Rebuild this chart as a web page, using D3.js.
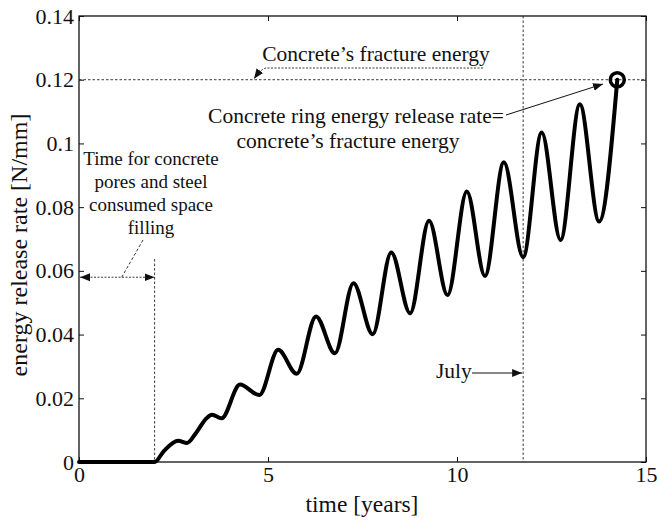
<!DOCTYPE html>
<html>
<head>
<meta charset="utf-8">
<script src="https://cdn.jsdelivr.net/npm/d3@7"></script>
<style>
  html, body { margin: 0; padding: 0; background: #fff; }
  svg { display: block; }
  text { font-family: "Liberation Serif", "DejaVu Serif", serif; fill: #111; }
</style>
</head>
<body>
<svg id="chart" width="657" height="521"></svg>
<script>
// ---- data ----
const timeYears = [0, 2.0, 2.25, 2.62, 2.86, 3.1, 3.38, 3.52, 3.77, 4.26, 4.77, 5.27, 5.76, 6.27, 6.77, 7.26, 7.77, 8.26, 8.76, 9.26, 9.75, 10.26, 10.74, 11.24, 11.75, 12.24, 12.74, 13.25, 13.76, 14.24];
const releaseRate = [0, 0, 0.0035, 0.0067, 0.0060, 0.0092, 0.0138, 0.0148, 0.0137, 0.0243, 0.0210, 0.0352, 0.0277, 0.0457, 0.0341, 0.0561, 0.0401, 0.0658, 0.0467, 0.0757, 0.0524, 0.0849, 0.0584, 0.0941, 0.0643, 0.1034, 0.0697, 0.1123, 0.0755, 0.1200];
const xTickValues = [0, 5, 10, 15];
const yTickValues = [0, 0.02, 0.04, 0.06, 0.08, 0.1, 0.12, 0.14];
const fractureEnergy = 0.12;
const fillingTime = 2;
const julyTime = 11.75;
const fillingArrowLevel = 0.058;
const fillingLineTop = 0.0637;

const xLabel = "time [years]";
const yLabel = "energy release rate [N/mm]";
const fillingLines = ["Time for concrete", "pores and steel", "consumed space", "filling"];
const fractureLabel = "Concrete’s fracture energy";
const ringLines = ["Concrete ring energy release rate=", "concrete’s fracture energy"];
const julyLabel = "July";

// ---- layout ----
const W = 657, H = 521;
const m = { left: 79, right: 11, top: 16, bottom: 59 };
const svg = d3.select("#chart");
const x = d3.scaleLinear().domain([0, 15]).range([m.left, W - m.right]);
const y = d3.scaleLinear().domain([0, 0.14]).range([H - m.bottom, m.top]);

const defs = svg.append("defs");
function marker(id, orient) {
  defs.append("marker")
    .attr("id", id).attr("viewBox", "0 0 10 10")
    .attr("refX", 10).attr("refY", 5)
    .attr("markerWidth", 10).attr("markerHeight", 10)
    .attr("markerUnits", "userSpaceOnUse")
    .attr("orient", orient)
    .append("path").attr("d", "M0,1 L10,5 L0,9 Z").attr("fill", "#111");
}
marker("arr", "auto");
marker("arrStart", "auto-start-reverse");

// ---- axes ----
const fontTick = 22;
const gx = svg.append("g").attr("transform", `translate(0,${y(0)})`)
  .call(d3.axisBottom(x).tickValues(xTickValues).tickSize(-5).tickSizeOuter(0).tickPadding(4).tickFormat(d3.format("d")));
const gxt = svg.append("g").attr("transform", `translate(0,${y(0.14)})`)
  .call(d3.axisTop(x).tickValues(xTickValues).tickSize(-5).tickSizeOuter(0).tickFormat(""));
const gy = svg.append("g").attr("transform", `translate(${x(0)},0)`)
  .call(d3.axisLeft(y).tickValues(yTickValues).tickSize(-5).tickSizeOuter(0).tickPadding(5).tickFormat(d => String(+d.toFixed(2))));
const gyr = svg.append("g").attr("transform", `translate(${x(15)},0)`)
  .call(d3.axisRight(y).tickValues(yTickValues).tickSize(-5).tickSizeOuter(0).tickFormat(""));
[gx, gxt, gy, gyr].forEach(g => {
  g.select(".domain").remove();
  g.selectAll(".tick line").attr("stroke", "#111").attr("stroke-width", 1);
  g.selectAll(".tick text").attr("font-size", fontTick).attr("font-family", "Liberation Serif").attr("fill", "#111");
});

svg.append("rect")
  .attr("x", x(0)).attr("y", y(0.14))
  .attr("width", x(15) - x(0)).attr("height", y(0) - y(0.14))
  .attr("fill", "none").attr("stroke", "#111").attr("stroke-width", 1.3);

// axis labels
svg.append("text").attr("x", 362).attr("y", 512)
  .attr("text-anchor", "middle").attr("font-size", 23.5).text(xLabel);
svg.append("text")
  .attr("transform", `translate(27,245) rotate(-90)`)
  .attr("text-anchor", "middle").attr("font-size", 24).text(yLabel);

// ---- reference lines ----
const dash = "2.5,2";
svg.append("line")
  .attr("x1", x(0)).attr("x2", x(15)).attr("y1", y(fractureEnergy)).attr("y2", y(fractureEnergy))
  .attr("stroke", "#222").attr("stroke-width", 0.9).attr("stroke-dasharray", dash);
svg.append("line")
  .attr("x1", x(julyTime)).attr("x2", x(julyTime)).attr("y1", y(0.14)).attr("y2", y(0))
  .attr("stroke", "#222").attr("stroke-width", 0.9).attr("stroke-dasharray", dash);
svg.append("line")
  .attr("x1", x(fillingTime)).attr("x2", x(fillingTime)).attr("y1", y(fillingLineTop)).attr("y2", y(0))
  .attr("stroke", "#222").attr("stroke-width", 0.9).attr("stroke-dasharray", dash);

// filling double arrow
svg.append("line")
  .attr("x1", x(0) + 1).attr("x2", x(fillingTime))
  .attr("y1", y(fillingArrowLevel)).attr("y2", y(fillingArrowLevel))
  .attr("stroke", "#222").attr("stroke-width", 0.9).attr("stroke-dasharray", "2,1.5")
  .attr("marker-start", "url(#arrStart)").attr("marker-end", "url(#arr)");
// leader from text to arrow
svg.append("line")
  .attr("x1", 143).attr("y1", 240).attr("x2", x(1.13)).attr("y2", y(fillingArrowLevel))
  .attr("stroke", "#222").attr("stroke-width", 0.9).attr("stroke-dasharray", "3,2");

const fsAnn = 21.5;
svg.append("g").selectAll("text").data(fillingLines).join("text")
  .attr("x", 151).attr("y", (d, i) => 165 + i * 23)
  .attr("text-anchor", "middle").attr("font-size", 19).text(d => d);

// fracture energy label + leader
svg.append("text").attr("x", 376).attr("y", 61).attr("text-anchor", "middle")
  .attr("font-size", fsAnn).text(fractureLabel);
svg.append("path")
  .attr("d", `M483,68 L266,68 Q261,69 254,${y(fractureEnergy) - 1}`)
  .attr("fill", "none").attr("stroke", "#222").attr("stroke-width", 0.9).attr("stroke-dasharray", "2,1.5")
  .attr("marker-end", "url(#arr)");

// ring energy label + arrow
svg.append("text").attr("x", 356).attr("y", 123).attr("text-anchor", "middle")
  .attr("font-size", fsAnn).text(ringLines[0]);
svg.append("text").attr("x", 348).attr("y", 148).attr("text-anchor", "middle")
  .attr("font-size", fsAnn).text(ringLines[1]);
svg.append("line")
  .attr("x1", 506).attr("y1", 115).attr("x2", 603).attr("y2", 84)
  .attr("stroke", "#111").attr("stroke-width", 1)
  .attr("marker-end", "url(#arr)");

// July label + arrow
svg.append("text").attr("x", 436).attr("y", 378).attr("font-size", fsAnn).text(julyLabel);
svg.append("line")
  .attr("x1", 472).attr("y1", 373).attr("x2", x(julyTime) - 1).attr("y2", 373)
  .attr("stroke", "#111").attr("stroke-width", 1)
  .attr("marker-end", "url(#arr)");

// ---- data curve ----
const pts = timeYears.map((t, i) => [t, releaseRate[i]]);
svg.append("path").datum(pts)
  .attr("d", d3.line().x(d => x(d[0])).y(d => y(d[1])).curve(d3.curveMonotoneX))
  .attr("fill", "none").attr("stroke", "#000").attr("stroke-width", 4)
  .attr("stroke-linejoin", "round").attr("stroke-linecap", "round");

// end marker
const last = pts[pts.length - 1];
svg.append("circle")
  .attr("cx", x(last[0])).attr("cy", y(last[1])).attr("r", 7)
  .attr("fill", "none").attr("stroke", "#000").attr("stroke-width", 3.5);
</script>
</body>
</html>
